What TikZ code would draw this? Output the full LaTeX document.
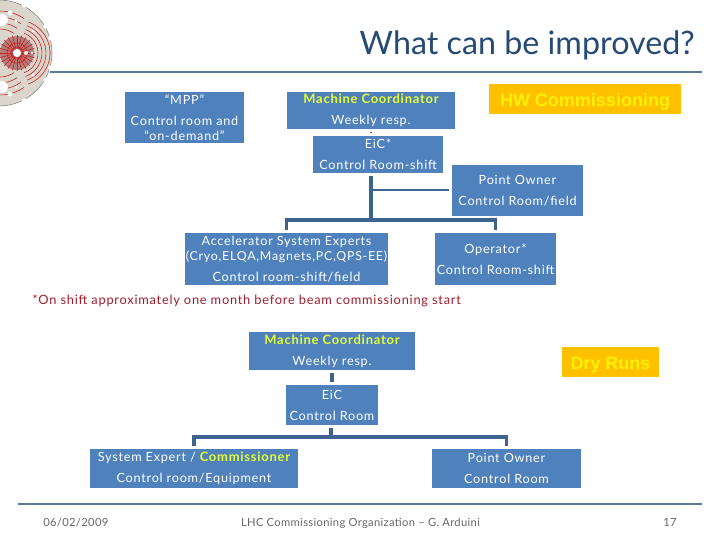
\documentclass[tikz,border=0pt]{standalone}
\usepackage{fontspec}
\setmainfont[LetterSpace=6]{Lato}
\newfontfamily\titlefont{Lato}
\newfontfamily\footfont[LetterSpace=3]{Lato}
\newfontfamily\tagfont{Liberation Sans}
\definecolor{boxblue}{HTML}{4F81BD}
\definecolor{linkblue}{HTML}{3F6391}
\definecolor{rulesteel}{HTML}{55799B}
\definecolor{titlenavy}{HTML}{254A73}
\definecolor{noteyellow}{HTML}{E6FF33}
\definecolor{tagamber}{HTML}{FFC000}
\definecolor{noteinkred}{HTML}{A01C2C}
\definecolor{footgray}{HTML}{666666}
\definecolor{discgray}{HTML}{DAD6CC}
\definecolor{corered}{HTML}{CC2222}
\newcommand{\hi}[1]{{\bfseries\fontsize{9.7}{11.25}\selectfont\color{noteyellow}#1}}
\begin{document}
\begin{tikzpicture}[x=0.75pt,y=-0.75pt,
  orgbox/.style={fill=boxblue,text=white,align=center,inner sep=0pt,outer sep=2.4pt,
    font=\fontsize{9.5}{11.25}\selectfont},
  tagbox/.style={fill=tagamber,text=yellow,inner sep=0pt,text height=10.5pt,text depth=0pt,
    font=\tagfont\bfseries\fontsize{13.5}{15}\selectfont},
  link/.style={draw=linkblue,line width=2.4pt},
  footer/.style={text=footgray,inner sep=0pt,font=\footfont\fontsize{8.4}{10}\selectfont}]
\useasboundingbox (0,0) rectangle (720,540);
% logo
\begin{scope}
\clip (0,0) rectangle (60,110);
\fill[discgray,draw=gray] (-1,53) circle (53);
\foreach \a in {-62,-30,-16,16,30,62}
  \fill[white] (-1,53) ++(\a:54) circle (2.5);
\fill[gray!60!corered!70!discgray] (17,53) circle (17);
\foreach \r in {21,25,29,33}
  \draw[corered,line width=0.45pt] (17,53) ++(-70:\r) arc (-70:70:\r);
\foreach \r in {24,30,36,42}
  \draw[corered,line width=0.45pt] (0,53) ++(-115:\r) arc (-115:-55:\r);
\foreach \r in {24,30,36,42}
  \draw[corered,line width=0.45pt] (0,53) ++(115:\r) arc (115:55:\r);
\foreach \a in {0,15,...,345}
  \draw[corered,line width=0.5pt] (17,53) ++(\a:4) -- ++(\a:14);
\foreach \r in {6,10}
  \draw[corered,line width=0.5pt] (17,53) circle (\r);
\fill[white] (17,53) circle (4);
\foreach \x/\y/\r in {10/13/2.5,33/31/1.5,33/75/1.5,10/94/2.5,2/20/6,2/87/6,16/21/1.5,16/87/1.5,26/53/2,32/53/1.5}
  \fill[white] (\x,\y) circle (\r);
\end{scope}
% title and rules
\node[anchor=base east,inner sep=0pt,text=titlenavy,font=\titlefont\fontsize{24.2}{28}\selectfont] (title) at (695,54) {What can be improved?};
\draw[rulesteel,line width=1.5pt] (50,72) -- (702,72);
\draw[rulesteel,line width=1.5pt] (18,504) -- (702,504);
% upper chart
\node[orgbox,minimum width=119*0.75pt,minimum height=51*0.75pt] (mpp) at (184.5,117.5) {``MPP''\\[4.5pt]Control room and\\``on-demand''};
\node[orgbox,minimum width=168*0.75pt,minimum height=37*0.75pt] (mc) at (371,110.5) {\hi{Machine Coordinator}\\[4.5pt]Weekly resp.};
\node[orgbox,minimum width=130*0.75pt,minimum height=37*0.75pt] (eicshift) at (378,154.5) {EiC*\\[4.5pt]Control Room-shift};
\node[orgbox,minimum width=131*0.75pt,minimum height=51*0.75pt] (owner) at (517.5,190.5) {Point Owner\\[4.5pt]Control Room/field};
\node[tagbox,minimum width=192*0.75pt,minimum height=30*0.75pt] (hwtag) at (585,99) {HW Commissioning};
\node[orgbox,minimum width=203*0.75pt,minimum height=52*0.75pt] (experts) at (286.5,259) {Accelerator System Experts\\{\fontsize{9.3}{11.25}\selectfont(Cryo,ELQA,Magnets,PC,QPS-EE)}\\[4.5pt]Control room-shift/field};
\node[orgbox,minimum width=121*0.75pt,minimum height=52*0.75pt] (operator) at (495.5,259) {Operator*\\[4.5pt]Control Room-shift};
\coordinate (topbus) at (371,220);
\coordinate (topjoin) at (371,190);
\draw[link,line width=0.8pt] (mc.south -| topbus) -- (eicshift.north -| topbus);
\draw[link] (eicshift.south -| topbus) -- (topbus);
\draw[link,line width=1.8pt] (topjoin) -- (owner.west |- topjoin);
\draw[link] (experts.north) |- (topbus) -| (operator.north);
\node[anchor=base west,inner sep=0pt,text=noteinkred,font=\fontsize{9.6}{11}\selectfont] (note) at (32,304) {*On shift approximately one month before beam commissioning start};
% lower chart
\node[orgbox,minimum width=166*0.75pt,minimum height=38*0.75pt] (mcdry) at (332,351) {\hi{Machine Coordinator}\\[4.5pt]Weekly resp.};
\node[tagbox,minimum width=97*0.75pt,minimum height=30*0.75pt] (drytag) at (610.5,362) {Dry Runs};
\node[orgbox,minimum width=92*0.75pt,minimum height=40*0.75pt] (eicdry) at (332,405) {EiC\\[4.5pt]Control Room};
\node[orgbox,minimum width=208*0.75pt,minimum height=39*0.75pt] (expert) at (194,468.5) {System Expert / \hi{Commissioner}\\[4.5pt]Control room/Equipment};
\node[orgbox,minimum width=149*0.75pt,minimum height=39*0.75pt] (ownerdry) at (506.5,468.5) {Point Owner\\[4.5pt]Control Room};
\coordinate (lowbus) at (331,437);
\draw[link] (mcdry) -- (eicdry);
\draw[link] (eicdry.south -| lowbus) -- (lowbus);
\draw[link] (expert.north) |- (lowbus) -| (ownerdry.north);
% footer
\node[footer,anchor=base west] (date) at (43,526) {06/02/2009};
\node[footer,anchor=base] (talk) at (360.5,526) {LHC Commissioning Organization – G. Arduini};
\node[footer,anchor=base east] (page) at (677,526) {17};
\end{tikzpicture}
\end{document}
